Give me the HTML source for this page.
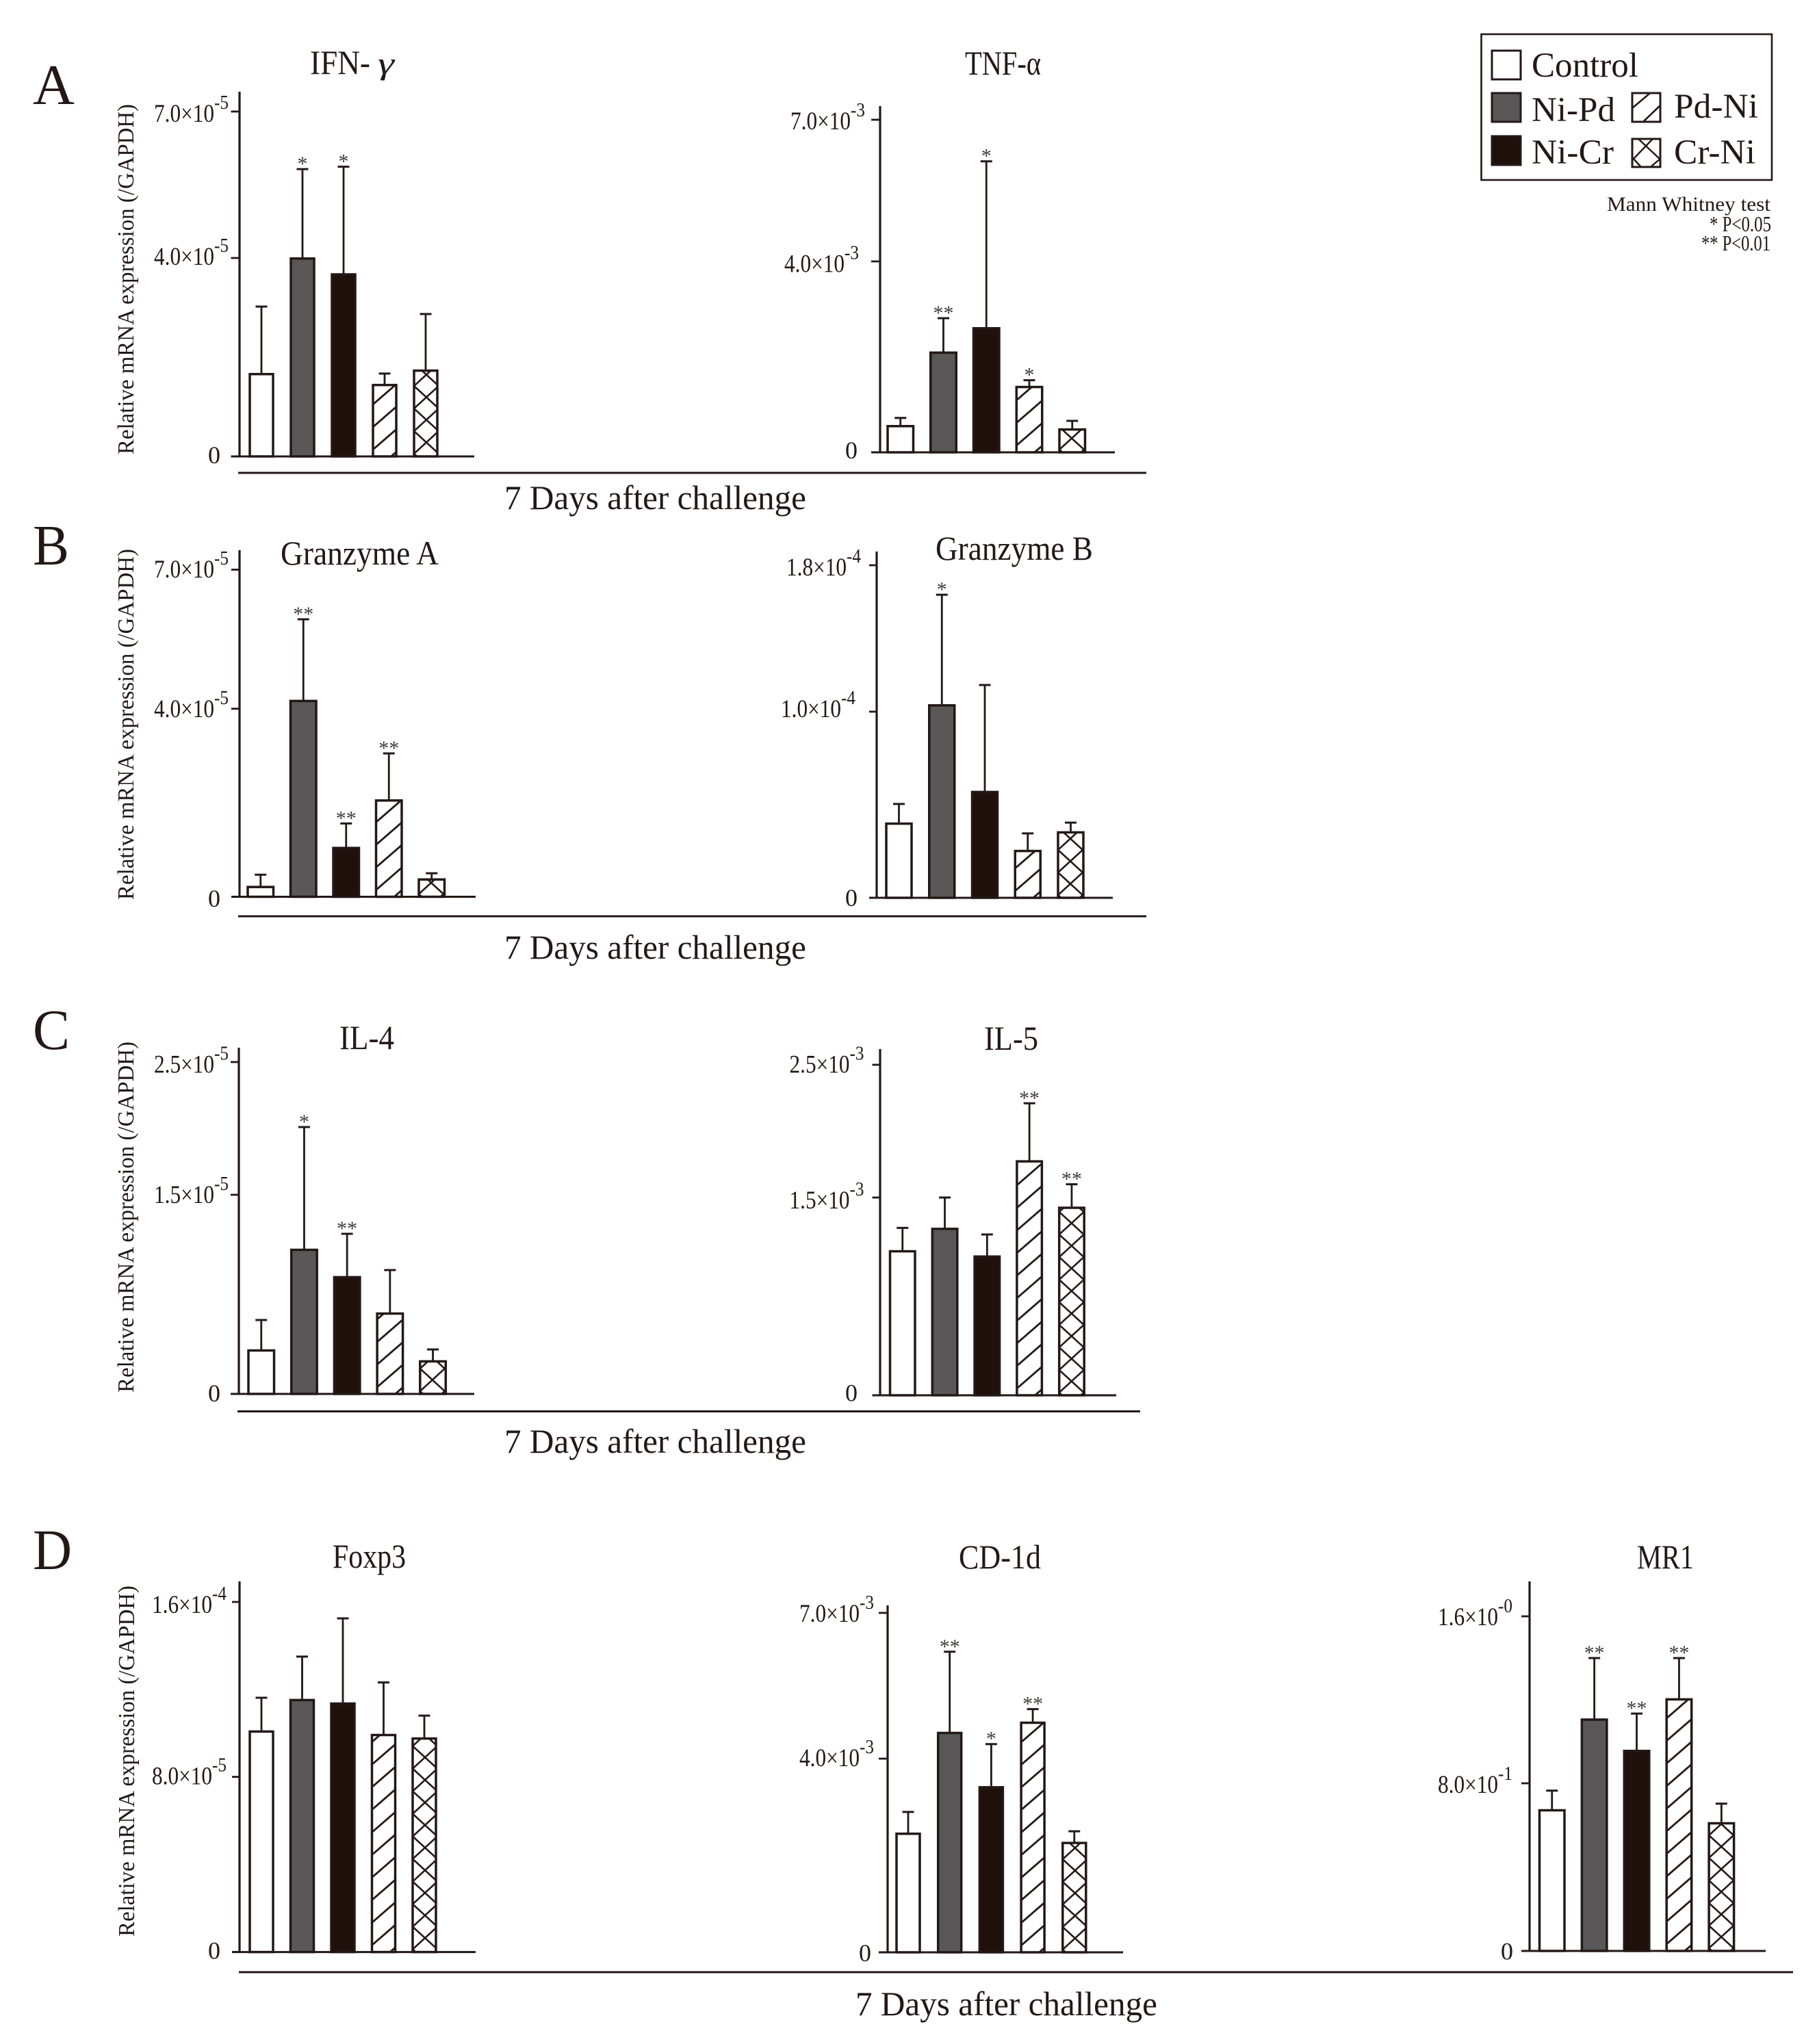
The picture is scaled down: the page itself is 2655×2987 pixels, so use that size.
<!DOCTYPE html>
<html lang="en">
<head>
<meta charset="utf-8">
<title>Relative mRNA expression 7 days after challenge</title>
<style>
  html, body { margin: 0; padding: 0; background: #fff; }
  svg { display: block; font-family: "Liberation Serif", "DejaVu Serif", serif; fill: #231815; }
  text { fill: #231815; }
</style>
</head>
<body>
<svg id="figure" xmlns="http://www.w3.org/2000/svg" width="2655" height="2987" viewBox="0 0 2655 2987">
  <defs>
    <pattern id="hatch-diagonal" patternUnits="userSpaceOnUse" width="38" height="33" patternTransform="translate(0,-10)">
      <path d="M-38 66 L76 -33" stroke="#231815" stroke-width="2.8" fill="none"/>
    </pattern>
    <pattern id="hatch-cross" patternUnits="userSpaceOnUse" width="36" height="33" patternTransform="translate(0,-4)">
      <path d="M-36 66 L72 -33 M-36 -33 L72 66" stroke="#231815" stroke-width="2.6" fill="none"/>
    </pattern>
  </defs>
  <rect width="2655" height="2987" fill="#fff"/>

  <text x="48" y="152" font-size="84" textLength="61" lengthAdjust="spacingAndGlyphs">A</text>
  <text x="48" y="825" font-size="84" textLength="53" lengthAdjust="spacingAndGlyphs">B</text>
  <text x="48" y="1533" font-size="84" textLength="54" lengthAdjust="spacingAndGlyphs">C</text>
  <text x="48" y="2293" font-size="84" textLength="57" lengthAdjust="spacingAndGlyphs">D</text>

  <text x="453" y="108" font-size="50" textLength="88" lengthAdjust="spacingAndGlyphs">IFN-</text>
  <text x="552" y="108" font-size="46" font-style="italic" textLength="24" lengthAdjust="spacingAndGlyphs">γ</text>
  <text x="1410" y="109" font-size="50" textLength="111" lengthAdjust="spacingAndGlyphs">TNF-α</text>
  <text x="410" y="825" font-size="50" textLength="231" lengthAdjust="spacingAndGlyphs">Granzyme A</text>
  <text x="1367" y="818" font-size="50" textLength="230" lengthAdjust="spacingAndGlyphs">Granzyme B</text>
  <text x="496" y="1533" font-size="50" textLength="80" lengthAdjust="spacingAndGlyphs">IL-4</text>
  <text x="1438" y="1534" font-size="50" textLength="79" lengthAdjust="spacingAndGlyphs">IL-5</text>
  <text x="486" y="2291" font-size="50" textLength="107" lengthAdjust="spacingAndGlyphs">Foxp3</text>
  <text x="1401" y="2292" font-size="50" textLength="120" lengthAdjust="spacingAndGlyphs">CD-1d</text>
  <text x="2392" y="2292" font-size="50" textLength="83" lengthAdjust="spacingAndGlyphs">MR1</text>

  <text transform="translate(195,664) rotate(-90)" font-size="34" textLength="512" lengthAdjust="spacingAndGlyphs">Relative mRNA expression (/GAPDH)</text>
  <text transform="translate(195,1315) rotate(-90)" font-size="34" textLength="513" lengthAdjust="spacingAndGlyphs">Relative mRNA expression (/GAPDH)</text>
  <text transform="translate(195,2035) rotate(-90)" font-size="34" textLength="513" lengthAdjust="spacingAndGlyphs">Relative mRNA expression (/GAPDH)</text>
  <text transform="translate(196,2830) rotate(-90)" font-size="34" textLength="513" lengthAdjust="spacingAndGlyphs">Relative mRNA expression (/GAPDH)</text>

  <line x1="348" x2="1675" y1="691" y2="691" stroke="#231815" stroke-width="3"/>
  <line x1="348" x2="1675" y1="1339" y2="1339" stroke="#231815" stroke-width="3"/>
  <line x1="347" x2="1666" y1="2062.5" y2="2062.5" stroke="#231815" stroke-width="3"/>
  <line x1="349" x2="2620" y1="2882" y2="2882" stroke="#231815" stroke-width="3"/>

  <text x="737" y="744" font-size="50" textLength="441" lengthAdjust="spacingAndGlyphs">7 Days after challenge</text>
  <text x="737" y="1401" font-size="50" textLength="441" lengthAdjust="spacingAndGlyphs">7 Days after challenge</text>
  <text x="737" y="2123" font-size="50" textLength="441" lengthAdjust="spacingAndGlyphs">7 Days after challenge</text>
  <text x="1250" y="2945" font-size="50" textLength="441" lengthAdjust="spacingAndGlyphs">7 Days after challenge</text>

  <g>
    <rect x="2164.5" y="50" width="424.5" height="213" fill="#fff" stroke="#231815" stroke-width="2.6"/>
    <rect x="2180" y="74" width="42" height="42" fill="#fff" stroke="#231815" stroke-width="3"/>
    <rect x="2180" y="136" width="42" height="42" fill="#595757" stroke="#231815" stroke-width="3"/>
    <rect x="2180" y="199" width="42" height="42" fill="#1f100c" stroke="#231815" stroke-width="3"/>
    <g>
      <rect x="2385" y="136" width="41" height="42" fill="#fff" stroke="#231815" stroke-width="3"/>
      <path d="M2385 158 L2410 137 M2402 177 L2426 154" stroke="#231815" stroke-width="2.6" fill="none"/>
    </g>
    <g>
      <rect x="2385" y="203" width="41" height="41" fill="#fff" stroke="#231815" stroke-width="3"/>
      <path d="M2386 233 L2415 203 M2394 203 L2426 233 M2385 230 L2397 243 M2413 243 L2426 232" stroke="#231815" stroke-width="2.4" fill="none"/>
    </g>
    <text x="2238" y="112" font-size="51" textLength="156" lengthAdjust="spacingAndGlyphs">Control</text>
    <text x="2238" y="177" font-size="51" textLength="122" lengthAdjust="spacingAndGlyphs">Ni-Pd</text>
    <text x="2238" y="239" font-size="51" textLength="120" lengthAdjust="spacingAndGlyphs">Ni-Cr</text>
    <text x="2446" y="172" font-size="51" textLength="123" lengthAdjust="spacingAndGlyphs">Pd-Ni</text>
    <text x="2446" y="239" font-size="51" textLength="119" lengthAdjust="spacingAndGlyphs">Cr-Ni</text>
  </g>

  <text x="2348" y="308" font-size="30" textLength="239" lengthAdjust="spacingAndGlyphs">Mann Whitney test</text>
  <text x="2498" y="338" font-size="32" textLength="90" lengthAdjust="spacingAndGlyphs">* P&lt;0.05</text>
  <text x="2486" y="366" font-size="32" textLength="101" lengthAdjust="spacingAndGlyphs">** P&lt;0.01</text>

  <g id="charts"></g>
</svg>

<script>
// Groups shared by all panels
const groups = ['Control', 'Ni-Pd', 'Ni-Cr', 'Pd-Ni', 'Cr-Ni'];

// IFN-gamma (x10^-5)
const ifnMeans = [1.68, 4.01, 3.69, 1.46, 1.75];
const ifnErrors = [1.34, 1.81, 2.18, 0.21, 1.12];
const ifnStars = ['', '*', '*', '', ''];
const ifnTicks = [0, 4, 7];
const ifnTickLabels = ['0', '4.0×10', '7.0×10'];
const ifnTickExponents = ['', '-5', '-5'];

// TNF-alpha (x10^-3)
const tnfMeans = [0.57, 2.11, 2.62, 1.39, 0.50];
const tnfErrors = [0.15, 0.70, 3.50, 0.12, 0.16];
const tnfStars = ['', '**', '*', '*', ''];
const tnfTicks = [0, 4, 7];
const tnfTickLabels = ['0', '4.0×10', '7.0×10'];
const tnfTickExponents = ['', '-3', '-3'];

// Granzyme A (x10^-5)
const gzmaMeans = [0.23, 4.19, 1.06, 2.07, 0.39];
const gzmaErrors = [0.24, 1.74, 0.50, 0.98, 0.11];
const gzmaStars = ['', '**', '**', '**', ''];
const gzmaTicks = [0, 4, 7];
const gzmaTickLabels = ['0', '4.0×10', '7.0×10'];
const gzmaTickExponents = ['', '-5', '-5'];

// Granzyme B (x10^-4)
const gzmbMeans = [0.404, 1.04, 0.574, 0.257, 0.357];
const gzmbErrors = [0.10, 0.599, 0.572, 0.089, 0.047];
const gzmbStars = ['', '*', '', '', ''];
const gzmbTicks = [0, 1.0, 1.8];
const gzmbTickLabels = ['0', '1.0×10', '1.8×10'];
const gzmbTickExponents = ['', '-4', '-4'];

// IL-4 (x10^-5)
const il4Means = [0.335, 1.093, 0.887, 0.613, 0.253];
const il4Errors = [0.222, 0.917, 0.319, 0.32, 0.082];
const il4Stars = ['', '*', '**', '', ''];
const il4Ticks = [0, 1.5, 2.5];
const il4TickLabels = ['0', '1.5×10', '2.5×10'];
const il4TickExponents = ['', '-5', '-5'];

// IL-5 (x10^-3)
const il5Means = [1.10, 1.27, 1.06, 1.78, 1.43];
const il5Errors = [0.17, 0.23, 0.16, 0.43, 0.17];
const il5Stars = ['', '', '', '**', '**'];
const il5Ticks = [0, 1.5, 2.5];
const il5TickLabels = ['0', '1.5×10', '2.5×10'];
const il5TickExponents = ['', '-3', '-3'];

// Foxp3 (x10^-5)
const foxp3Means = [10.12, 11.56, 11.40, 9.96, 9.80];
const foxp3Errors = [1.50, 1.94, 3.85, 2.36, 1.00];
const foxp3Stars = ['', '', '', '', ''];
const foxp3Ticks = [0, 8, 16];
const foxp3TickLabels = ['0', '8.0×10', '1.6×10'];
const foxp3TickExponents = ['', '-5', '-4'];

// CD-1d (x10^-3)
const cd1dMeans = [2.47, 4.55, 3.43, 4.76, 2.28];
const cd1dErrors = [0.43, 1.65, 0.87, 0.26, 0.22];
const cd1dStars = ['', '**', '*', '**', ''];
const cd1dTicks = [0, 4, 7];
const cd1dTickLabels = ['0', '4.0×10', '7.0×10'];
const cd1dTickExponents = ['', '-3', '-3'];

// MR1
const mr1Means = [0.676, 1.11, 0.96, 1.207, 0.614];
const mr1Errors = [0.089, 0.29, 0.174, 0.193, 0.089];
const mr1Stars = ['', '**', '**', '**', ''];
const mr1Ticks = [0, 0.8, 1.6];
const mr1TickLabels = ['0', '8.0×10', '1.6×10'];
const mr1TickExponents = ['', '-1', '-0'];

const FILLS = ['#ffffff', '#595757', '#1f100c', 'url(#hatch-diagonal)', 'url(#hatch-cross)'];
const INK = '#231815';
const SVG_NS = 'http://www.w3.org/2000/svg';

function draw(tag, attrs, parent, content) {
  const el = document.createElementNS(SVG_NS, tag);
  for (const k in attrs) el.setAttribute(k, attrs[k]);
  if (content !== undefined) el.textContent = content;
  parent.appendChild(el);
  return el;
}

// Piecewise linear axis function through the tick marks
function makeYScale(ticks, frame) {
  return function (v) {
    let i = 0;
    while (i < ticks.length - 2 && v > ticks[i + 1]) i++;
    const t = (v - ticks[i]) / (ticks[i + 1] - ticks[i]);
    return frame.tickY[i] + t * (frame.tickY[i + 1] - frame.tickY[i]);
  };
}

function makeXScale(frame) {
  return function (i) { return frame.barStart + i * frame.barStep; };
}

function renderPanel(root, p) {
  const f = p.frame;
  const y = makeYScale(p.ticks, f);
  const x = makeXScale(f);
  const g = draw('g', {}, root);
  
  

  const yAxis = draw('line', { x1: f.axisX, x2: f.axisX, y1: f.axisTop, y2: y(0) + 1, stroke: INK, 'stroke-width': 3.2 }, g);
  
  

  p.ticks.forEach(function (t, i) {
    const ty = y(t);
    const tick = draw('line', { x1: f.tickLeft, x2: f.axisX, y1: ty, y2: ty, stroke: INK, 'stroke-width': 2.8 }, g);
    
    

    const base = ty + f.labelDy[i];
    if (t === 0) {
      const zero = draw('text', { x: f.zeroEnd, y: base, 'font-size': 36, 'text-anchor': 'end' }, g, p.tickLabels[i]);
      
      
    } else {
      const end = f.labelEnd[i];
      const main = draw('text', { x: end - 88, y: base, 'font-size': 37, textLength: 88, lengthAdjust: 'spacingAndGlyphs' }, g, p.tickLabels[i]);
      
      
      const exp = draw('text', { x: end, y: base - 19, 'font-size': 29, textLength: 21, lengthAdjust: 'spacingAndGlyphs' }, g, p.tickExponents[i]);
      
      
    }
  });

  groups.forEach(function (group, i) {
    const key = group.toLowerCase();
    const left = x(i);
    const cx = left + f.barWidth / 2;
    const top = y(p.means[i]);
    const errTop = y(p.means[i] + p.errors[i]);

    const stem = draw('line', { x1: cx, x2: cx, y1: top, y2: errTop, stroke: INK, 'stroke-width': 2.8 }, g);
    
    
    const cap = draw('line', { x1: cx - 8.5, x2: cx + 8.5, y1: errTop, y2: errTop, stroke: INK, 'stroke-width': 3 }, g);
    
    

    const h = y(0) - top;
    const bar = draw('rect', {
      transform: 'translate(' + (left + 1) + ',' + y(0) + ')',
      x: 0, y: -h + 1.5, width: f.barWidth - 2, height: h - 1.5,
      fill: FILLS[i], stroke: INK, 'stroke-width': 3.5
    }, g);
    
    

    if (p.stars[i]) {
      const star = draw('text', { x: cx, y: errTop + 2, 'font-size': 30, 'text-anchor': 'middle', style: 'fill:#3e3a39' }, g, p.stars[i]);
      
      
    }
  });

  const xAxis = draw('line', { x1: f.tickLeft, x2: f.axisRight, y1: y(0), y2: y(0), stroke: INK, 'stroke-width': 3 }, g);
  
  
}

const panels = [
  { name: 'ifn-gamma', means: ifnMeans, errors: ifnErrors, stars: ifnStars, ticks: ifnTicks, tickLabels: ifnTickLabels, tickExponents: ifnTickExponents,
    frame: { axisX: 350, axisTop: 134, tickLeft: 337.5, axisRight: 693, tickY: [667, 377, 163], barStart: 364, barStep: 60, barWidth: 36, labelEnd: [0, 313, 313], zeroEnd: 322, labelDy: [10, 10, 15] } },
  { name: 'tnf-alpha', means: tnfMeans, errors: tnfErrors, stars: tnfStars, ticks: tnfTicks, tickLabels: tnfTickLabels, tickExponents: tnfTickExponents,
    frame: { axisX: 1286, axisTop: 155, tickLeft: 1273, axisRight: 1629, tickY: [661, 382, 175], barStart: 1296, barStep: 62.75, barWidth: 39.5, labelEnd: [0, 1234, 1243], zeroEnd: 1253, labelDy: [9, 15.5, 14] } },
  { name: 'granzyme-a', means: gzmaMeans, errors: gzmaErrors, stars: gzmaStars, ticks: gzmaTicks, tickLabels: gzmaTickLabels, tickExponents: gzmaTickExponents,
    frame: { axisX: 350, axisTop: 804, tickLeft: 338, axisRight: 695, tickY: [1310.5, 1035.7, 832.5], barStart: 361, barStep: 62.5, barWidth: 39.5, labelEnd: [0, 313, 313], zeroEnd: 322, labelDy: [14.5, 12.5, 11.5] } },
  { name: 'granzyme-b', means: gzmbMeans, errors: gzmbErrors, stars: gzmbStars, ticks: gzmbTicks, tickLabels: gzmbTickLabels, tickExponents: gzmbTickExponents,
    frame: { axisX: 1281, axisTop: 806, tickLeft: 1270, axisRight: 1626, tickY: [1312, 1040, 826], barStart: 1294, barStep: 62.75, barWidth: 39, labelEnd: [0, 1229, 1237], zeroEnd: 1253, labelDy: [12, 8, 15] } },
  { name: 'il-4', means: il4Means, errors: il4Errors, stars: il4Stars, ticks: il4Ticks, tickLabels: il4TickLabels, tickExponents: il4TickExponents,
    frame: { axisX: 349, axisTop: 1531, tickLeft: 337, axisRight: 693, tickY: [2037, 1746, 1552], barStart: 362, barStep: 62.7, barWidth: 39.5, labelEnd: [0, 313, 313], zeroEnd: 322, labelDy: [11, 12, 15.5] } },
  { name: 'il-5', means: il5Means, errors: il5Errors, stars: il5Stars, ticks: il5Ticks, tickLabels: il5TickLabels, tickExponents: il5TickExponents,
    frame: { axisX: 1286, axisTop: 1533, tickLeft: 1274.5, axisRight: 1631, tickY: [2039, 1750, 1556], barStart: 1299.5, barStep: 61.8, barWidth: 38.5, labelEnd: [0, 1241.5, 1241.5], zeroEnd: 1253, labelDy: [8.5, 16, 11.5] } },
  { name: 'foxp3', means: foxp3Means, errors: foxp3Errors, stars: foxp3Stars, ticks: foxp3Ticks, tickLabels: foxp3TickLabels, tickExponents: foxp3TickExponents,
    frame: { axisX: 350, axisTop: 2311, tickLeft: 339, axisRight: 695, tickY: [2852.6, 2596.6, 2341], barStart: 364, barStep: 59.5, barWidth: 36, labelEnd: [0, 310, 310], zeroEnd: 322, labelDy: [10, 11, 16] } },
  { name: 'cd-1d', means: cd1dMeans, errors: cd1dErrors, stars: cd1dStars, ticks: cd1dTicks, tickLabels: cd1dTickLabels, tickExponents: cd1dTickExponents,
    frame: { axisX: 1297, axisTop: 2346, tickLeft: 1284, axisRight: 1641, tickY: [2853, 2570, 2357], barStart: 1309, barStep: 60.7, barWidth: 36, labelEnd: [0, 1256, 1256], zeroEnd: 1273, labelDy: [13, 11, 13] } },
  { name: 'mr1', means: mr1Means, errors: mr1Errors, stars: mr1Stars, ticks: mr1Ticks, tickLabels: mr1TickLabels, tickExponents: mr1TickExponents,
    frame: { axisX: 2235, axisTop: 2311, tickLeft: 2223, axisRight: 2580, tickY: [2851, 2606, 2362], barStart: 2248.5, barStep: 61.9, barWidth: 38.5, labelEnd: [0, 2189, 2189], zeroEnd: 2211, labelDy: [12.5, 14, 13] } }
];

const chartRoot = document.getElementById('charts');
panels.forEach(function (p) { renderPanel(chartRoot, p); });
</script>
</body>
</html>
